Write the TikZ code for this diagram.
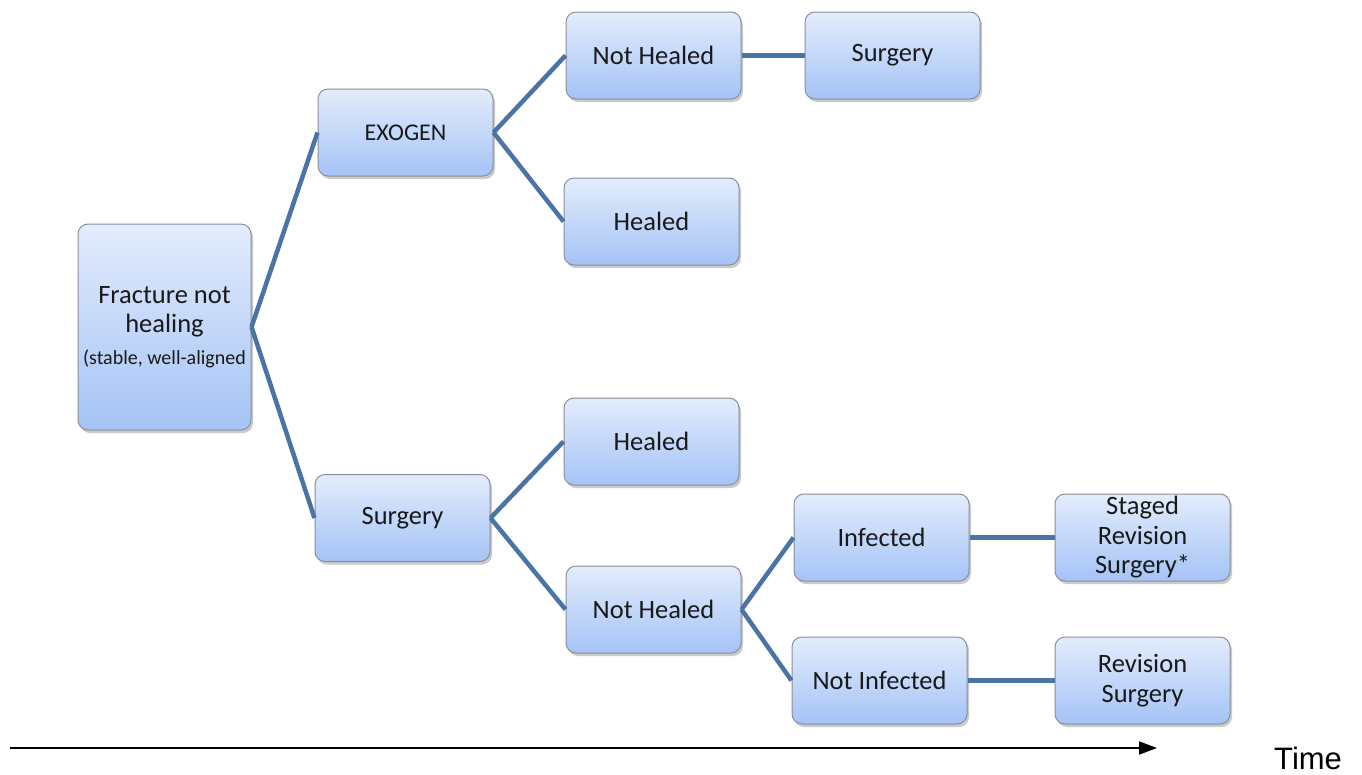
\documentclass[tikz,border=0pt]{standalone}
\usepackage{fontspec}
\setmainfont{Carlito}
\newfontfamily\arialfont{Liberation Sans}
\usetikzlibrary{shadows,arrows.meta}
\definecolor{linkblue}{HTML}{4A74A6}
\definecolor{boxtop}{HTML}{E3ECFC}
\definecolor{boxbot}{HTML}{A5C3F6}
\definecolor{boxedge}{HTML}{8A8F99}
\tikzset{
  box/.style={draw=boxedge, line width=1pt, rounded corners=10pt,
    top color=boxtop, bottom color=boxbot,
    minimum width=175pt, minimum height=87pt, align=center,
    inner sep=0pt, text=black!90,
    font=\fontsize{26.5}{29.5}\selectfont,
    drop shadow={shadow xshift=2pt, shadow yshift=-3pt, opacity=0.35, fill=black!60}},
  link/.style={draw=linkblue, line width=4.5pt},
}
\begin{document}
\begin{tikzpicture}[x=1pt,y=-1pt]
\useasboundingbox (0,0) rectangle (1362,774);
\node[box, minimum height=206pt, minimum width=173pt] (frac) at (164.5,327)
  {Fracture not\\healing\\[2pt]{\fontsize{20}{24}\selectfont(stable, well-aligned}};
\node[box] (exo) at (405.5,132.5) {{\fontsize{24}{28}\selectfont EXOGEN}};
\node[box] (surgL) at (402.5,518) {Surgery};
\node[box] (nh1) at (653.5,55.5) {Not Healed};
\node[box] (surg1) at (892.5,55.5) {Surgery};
\node[box] (h1) at (651.5,221.5) {Healed};
\node[box] (h2) at (651.5,441.5) {Healed};
\node[box] (nh2) at (653.5,609.5) {Not Healed};
\node[box] (inf) at (881.5,537.5) {Infected};
\node[box] (ninf) at (879.5,680.5) {Not Infected};
\node[box] (staged) at (1142.5,537.5) {Staged\\Revision\\Surgery*};
\node[box] (rev) at (1142.5,680.5) {Revision\\Surgery};

\draw[link] (frac.east) -- (exo.west);
\draw[link] (frac.east) -- (surgL.west);
\draw[link] (exo.east) -- (nh1.west);
\draw[link] (exo.east) -- (h1.west);
\draw[link] (nh1.east) -- (surg1.west);
\draw[link] (surgL.east) -- (h2.west);
\draw[link] (surgL.east) -- (nh2.west);
\draw[link] (nh2.east) -- (inf.west);
\draw[link] (nh2.east) -- (ninf.west);
\draw[link] (inf.east) -- (staged.west);
\draw[link] (ninf.east) -- (rev.west);

\coordinate (tstart) at (10,748);
\node[anchor=west, inner sep=0pt, font=\arialfont\fontsize{31}{34}\selectfont] (time) at (1274,758) {Time};
\coordinate (tend) at (1157,748);
\draw[line width=2pt, -{Triangle[length=18pt,width=13pt]}] (tstart) -- (tend);
\end{tikzpicture}
\end{document}
